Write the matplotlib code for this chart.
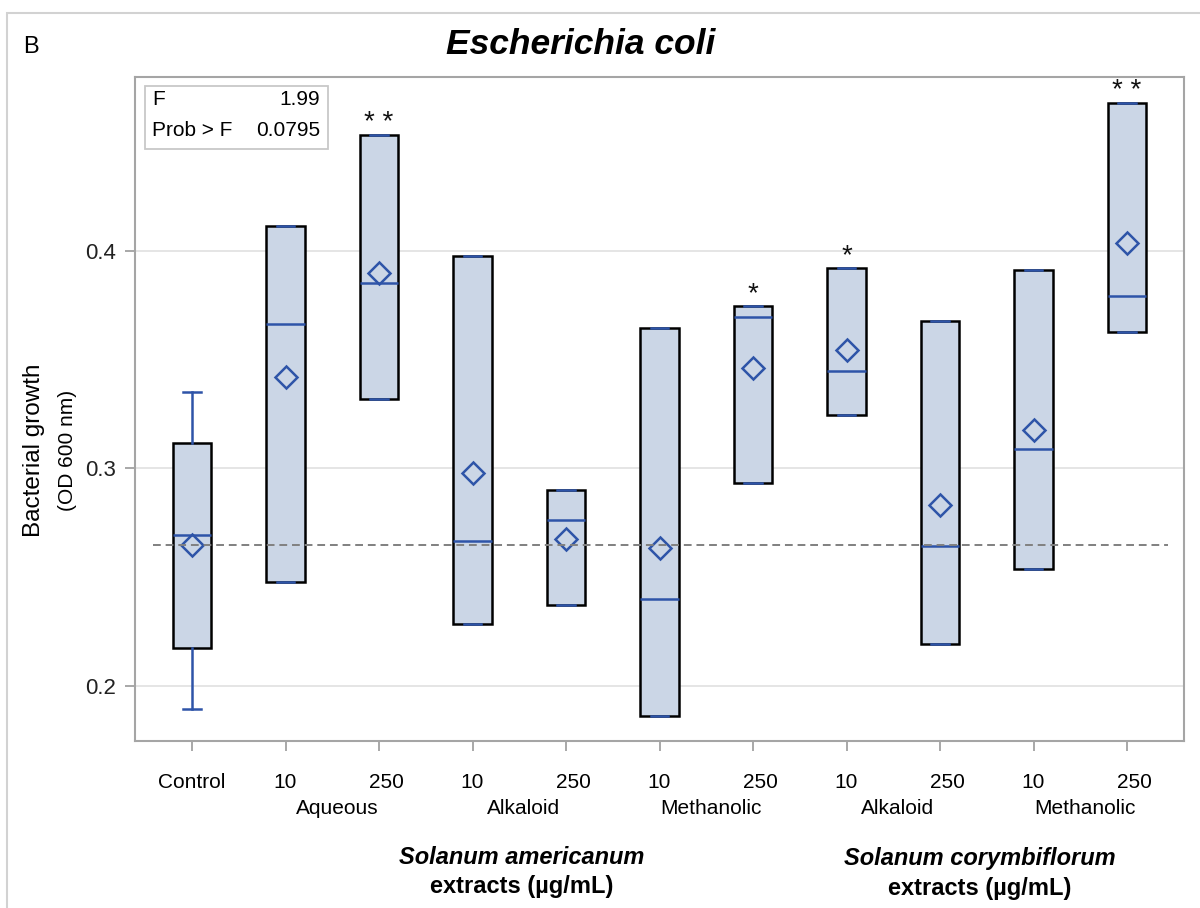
import matplotlib
matplotlib.use("Agg")
import matplotlib.pyplot as plt
from matplotlib.patches import Rectangle

plt.rcParams['font.family'] = ['Liberation Sans', 'DejaVu Sans']

# doses on the x axis, extract type under each pair
doses = ["Control", "10", "250", "10", "250", "10", "250", "10", "250", "10", "250"]
extract_types = ["Aqueous", "Alkaloid", "Methanolic", "Alkaloid", "Methanolic"]

# box statistics (OD 600 nm)
q1 = [0.2173, 0.2480, 0.3319, 0.2287, 0.2373, 0.1863, 0.2935, 0.3246, 0.2191, 0.2537, 0.3629]
medians = [0.2695, 0.3665, 0.3854, 0.2666, 0.2762, 0.2398, 0.3698, 0.3447, 0.2642, 0.3090, 0.3793]
q3 = [0.3117, 0.4114, 0.4533, 0.3976, 0.2900, 0.3645, 0.3749, 0.3923, 0.3679, 0.3913, 0.4682]
whisk_lo = [0.1896, 0.2480, 0.3319, 0.2287, 0.2373, 0.1863, 0.2935, 0.3246, 0.2191, 0.2537, 0.3629]
whisk_hi = [0.3352, 0.4114, 0.4533, 0.3976, 0.2900, 0.3645, 0.3749, 0.3923, 0.3679, 0.3913, 0.4682]
means = [0.2649, 0.3422, 0.3899, 0.2979, 0.2676, 0.2634, 0.3464, 0.3544, 0.2831, 0.3179, 0.4037]
signif = ["", "", "* *", "", "", "", "*", "*", "", "", "* *"]

f_value = "1.99"
p_value = "0.0795"

BOX_FILL = "#CBD6E6"
BLUE = "#2E54A8"

fig = plt.figure(figsize=(12, 9.08), dpi=100)
ax = fig.add_axes([0.1125, 0.1839, 0.8742, 0.7313])

stats = []
for i in range(len(doses)):
    stats.append({"med": medians[i], "q1": q1[i], "q3": q3[i],
                  "whislo": whisk_lo[i], "whishi": whisk_hi[i], "mean": means[i]})

pos = list(range(len(doses)))
ax.bxp(stats, positions=pos, widths=0.41, capwidths=0.19, showmeans=True,
       showfliers=False, patch_artist=True,
       boxprops=dict(facecolor=BOX_FILL, edgecolor="black", linewidth=1.8),
       medianprops=dict(color=BLUE, linewidth=1.8),
       whiskerprops=dict(color=BLUE, linewidth=1.8),
       capprops=dict(color=BLUE, linewidth=1.8),
       meanprops=dict(marker="D", markerfacecolor="none", markeredgecolor=BLUE,
                      markersize=11, markeredgewidth=1.8))

# control mean reference line
ax.plot([-0.42, 10.44], [means[0], means[0]], ls=(0, (4, 2.5)), color="#808080",
        lw=1.4, zorder=3)

for i, s in enumerate(signif):
    if s:
        ax.annotate(s, (pos[i], q3[i]), xytext=(0, -1), textcoords="offset points",
                    ha="center", va="bottom", fontsize=20, color="#111111")

ax.set_xlim(-0.61, 10.61)
ax.set_ylim(0.1747, 0.480)
ax.set_yticks([0.2, 0.3, 0.4])
ax.set_yticklabels(["0.2", "0.3", "0.4"])
ax.set_xticks(pos)
ax.set_xticklabels([])
ax.tick_params(axis="both", direction="out", length=7.5, width=1.2, color="#9A9A9A",
               labelsize=16, labelcolor="#222222", pad=6)
ax.grid(axis="y", color="#E3E3E3", lw=1.3)
ax.set_axisbelow(True)
for sp in ax.spines.values():
    sp.set_color("#A5A5A5")
    sp.set_linewidth(1.5)

# dose labels and extract-type labels under the axis
xt = ax.get_xaxis_transform()
for i, d in enumerate(doses):
    dx = 0.08 if d == "250" else 0.0
    ax.text(pos[i] + dx, -0.062, d, transform=xt, ha="center", va="center", fontsize=15)
for k, name in enumerate(extract_types):
    xc = (pos[1 + 2 * k] + pos[2 + 2 * k]) / 2 + 0.05
    ax.text(xc, -0.101, name, transform=xt, ha="center", va="center", fontsize=15)

# F test box
ax.add_patch(Rectangle((0.0095, 0.8916), 0.1745, 0.0948, transform=ax.transAxes,
                       facecolor="white", edgecolor="#C8C8C8", lw=1.3, zorder=4))
ax.text(0.0162, 0.9654, "F", transform=ax.transAxes, ha="left", va="center", fontsize=15, zorder=5)
ax.text(0.1764, 0.9654, f_value, transform=ax.transAxes, ha="right", va="center", fontsize=15, zorder=5)
ax.text(0.0162, 0.9200, "Prob > F", transform=ax.transAxes, ha="left", va="center", fontsize=15, zorder=5)
ax.text(0.1764, 0.9200, p_value, transform=ax.transAxes, ha="right", va="center", fontsize=15, zorder=5)

# y label (two lines, different sizes)
fig.text(0.028, 1 - 450 / 908, "Bacterial growth", rotation=90, ha="center", va="center", fontsize=17.5)
fig.text(0.056, 1 - 450 / 908, "(OD 600 nm)", rotation=90, ha="center", va="center", fontsize=15)

# titles
fig.text(0.484, 1 - 45 / 908, "Escherichia coli", ha="center", va="center",
         fontsize=25.5, fontweight="bold", fontstyle="italic")
fig.text(0.019, 1 - 47 / 908, "B", ha="left", va="center", fontsize=17)

fig.text(522 / 1200, 1 - 857 / 908, "Solanum americanum", ha="center", va="center",
         fontsize=17, fontweight="bold", fontstyle="italic")
fig.text(522 / 1200, 1 - 887 / 908, "extracts (µg/mL)", ha="center", va="center",
         fontsize=17, fontweight="bold")
fig.text(980 / 1200, 1 - 858 / 908, "Solanum corymbiflorum", ha="center", va="center",
         fontsize=17, fontweight="bold", fontstyle="italic")
fig.text(980 / 1200, 1 - 889 / 908, "extracts (µg/mL)", ha="center", va="center",
         fontsize=17, fontweight="bold")

# light panel border
fig.patches.append(Rectangle((7 / 1200, -0.1), 1.2, 1 - 13 / 908 + 0.1, transform=fig.transFigure,
                             fill=False, edgecolor="#D2D2D2", lw=1.5))

fig.savefig("out.png", dpi=100)
